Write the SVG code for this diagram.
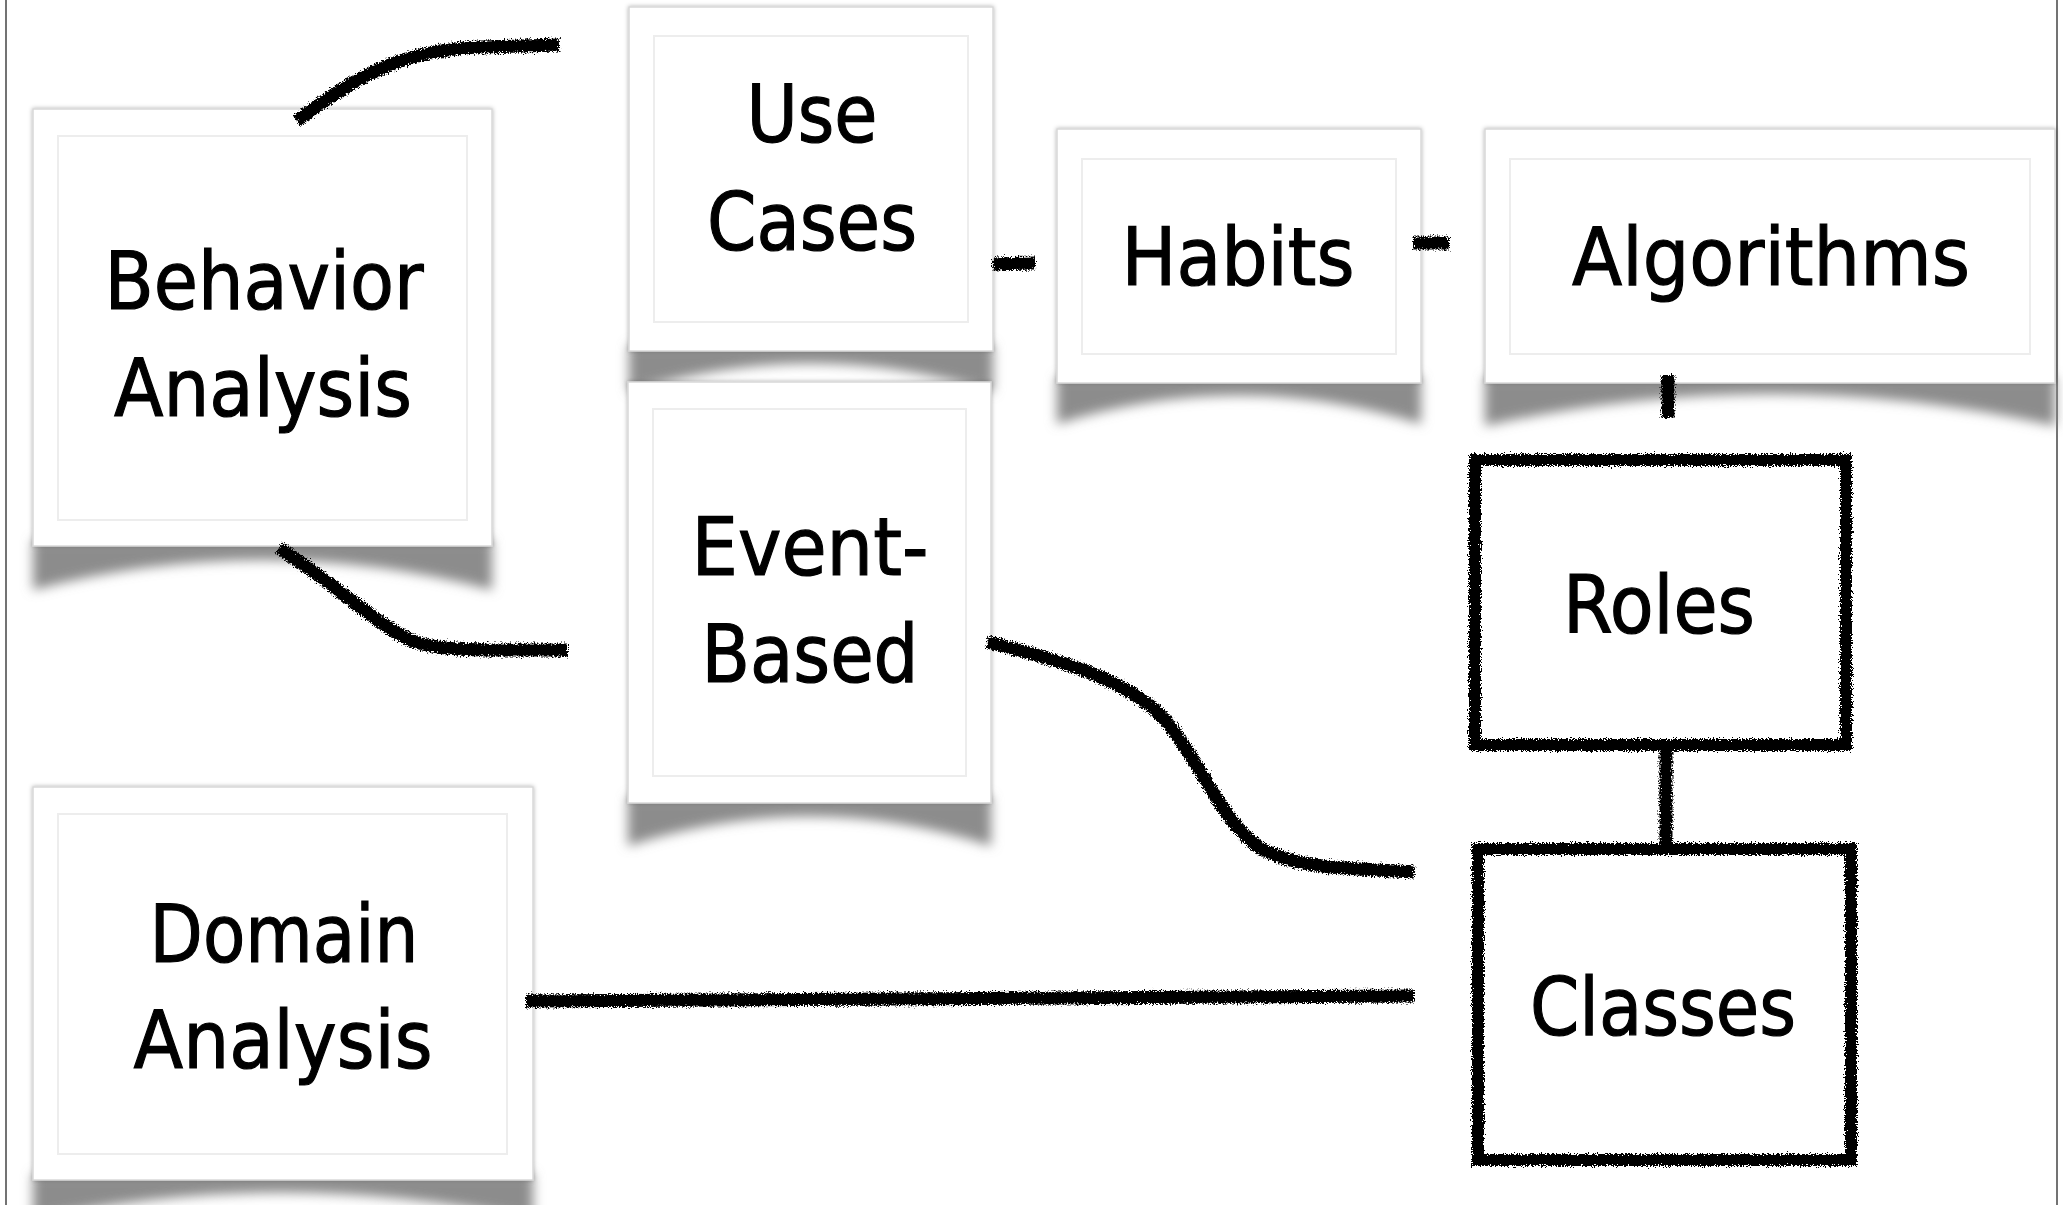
<svg xmlns="http://www.w3.org/2000/svg" width="2063" height="1205" viewBox="0 0 2063 1205">
<defs>
<style>
.card{fill:#fff;stroke:#d8d8d8;stroke-width:1.5;filter:url(#cardsh)}
.inner{fill:none;stroke:#ededed;stroke-width:2}
.shadow{fill:#8c8c8c;filter:url(#blur)}
.lbl{font-family:"DejaVu Sans","Noto Sans",sans-serif;font-size:80px;fill:#000;stroke:#000;stroke-width:1.2;text-anchor:middle}
.con{fill:none;stroke:#000;stroke-width:13;filter:url(#rough)}
.box{fill:#fff;stroke:#000;stroke-width:12;filter:url(#rough)}
.frame{stroke:#444;stroke-width:1.5}
</style>
<filter id="rough" filterUnits="userSpaceOnUse" x="0" y="0" width="2063" height="1205">
<feTurbulence type="fractalNoise" baseFrequency="0.7" numOctaves="2" seed="4" result="n"/>
<feDisplacementMap in="SourceGraphic" in2="n" scale="8" xChannelSelector="R" yChannelSelector="G"/>
</filter>
<filter id="blur" filterUnits="userSpaceOnUse" x="0" y="0" width="2063" height="1205">
<feGaussianBlur stdDeviation="6"/>
</filter>
<filter id="cardsh" x="-5%" y="-5%" width="110%" height="110%">
<feDropShadow dx="0" dy="0" stdDeviation="2" flood-color="#000" flood-opacity="0.3"/>
</filter>
</defs>
<rect width="2063" height="1205" fill="#fff"/>
<line class="frame" x1="6" y1="0" x2="6" y2="1205"/>
<line class="frame" x1="2057" y1="0" x2="2057" y2="1205"/>

<g id="behavior-analysis">
<path class="shadow" d="M33,540 L492,540 L492,590 Q262,530 33,590 Z"/>
<rect class="card" x="33" y="109" width="459" height="437"/>
<rect class="inner" x="58" y="136" width="409" height="384"/>
<text class="lbl" x="264" y="309" textLength="319" lengthAdjust="spacingAndGlyphs">Behavior</text>
<text class="lbl" x="263" y="416" textLength="298" lengthAdjust="spacingAndGlyphs">Analysis</text>
</g>

<g id="use-cases">
<path class="shadow" d="M629,345 L993,345 L993,392 Q811,335 629,392 Z"/>
<rect class="card" x="629" y="7" width="364" height="344"/>
<rect class="inner" x="654" y="36" width="314" height="286"/>
<text class="lbl" x="812" y="142" textLength="131" lengthAdjust="spacingAndGlyphs">Use</text>
<text class="lbl" x="812" y="250" textLength="210" lengthAdjust="spacingAndGlyphs">Cases</text>
</g>

<g id="event-based">
<path class="shadow" d="M628,797 L991,797 L991,846 Q809,787 628,846 Z"/>
<rect class="card" x="628" y="382" width="363" height="421"/>
<rect class="inner" x="653" y="409" width="313" height="367"/>
<text class="lbl" x="810" y="575" textLength="237" lengthAdjust="spacingAndGlyphs">Event-</text>
<text class="lbl" x="810" y="682" textLength="217" lengthAdjust="spacingAndGlyphs">Based</text>
</g>

<g id="habits">
<path class="shadow" d="M1057,377 L1421,377 L1421,424 Q1239,367 1057,424 Z"/>
<rect class="card" x="1057" y="129" width="364" height="254"/>
<rect class="inner" x="1082" y="159" width="314" height="195"/>
<text class="lbl" x="1238" y="285" textLength="233" lengthAdjust="spacingAndGlyphs">Habits</text>
</g>

<g id="algorithms">
<path class="shadow" d="M1485,377 L2055,377 L2055,426 Q1770,362 1485,426 Z"/>
<rect class="card" x="1485" y="129" width="570" height="254"/>
<rect class="inner" x="1510" y="159" width="520" height="195"/>
<text class="lbl" x="1771" y="285" textLength="398" lengthAdjust="spacingAndGlyphs">Algorithms</text>
</g>

<g id="domain-analysis">
<path class="shadow" d="M33,1174 L533,1174 L533,1220 Q283,1165 33,1220 Z"/>
<rect class="card" x="33" y="787" width="500" height="393"/>
<rect class="inner" x="58" y="814" width="449" height="340"/>
<text class="lbl" x="284" y="962" textLength="269" lengthAdjust="spacingAndGlyphs">Domain</text>
<text class="lbl" x="283" y="1068" textLength="299" lengthAdjust="spacingAndGlyphs">Analysis</text>
</g>

<g id="connectors">
<path class="con" d="M297,121 C350,80 400,50 480,47 L559,45"/>
<path class="con" d="M279,548 C330,580 370,620 410,640 C440,652 480,650 568,650"/>
<path class="con" d="M993,264 L1035,263"/>
<path class="con" d="M1413,243 L1449,243"/>
<path class="con" d="M1668,375 L1668,418"/>
<path class="con" d="M1666,745 L1666,849"/>
<path class="con" d="M987,642 C1060,660 1130,680 1165,720 C1200,760 1220,820 1260,848 C1300,870 1350,868 1414,872"/>
<path class="con" d="M526,1001 L1414,996"/>
</g>

<g id="roles">
<rect class="box" x="1475" y="460" width="371" height="285"/>
<text class="lbl" x="1659" y="633" textLength="192" lengthAdjust="spacingAndGlyphs">Roles</text>
</g>

<g id="classes">
<rect class="box" x="1478" y="849" width="373" height="311"/>
<text class="lbl" x="1663" y="1035" textLength="266" lengthAdjust="spacingAndGlyphs">Classes</text>
</g>
</svg>
